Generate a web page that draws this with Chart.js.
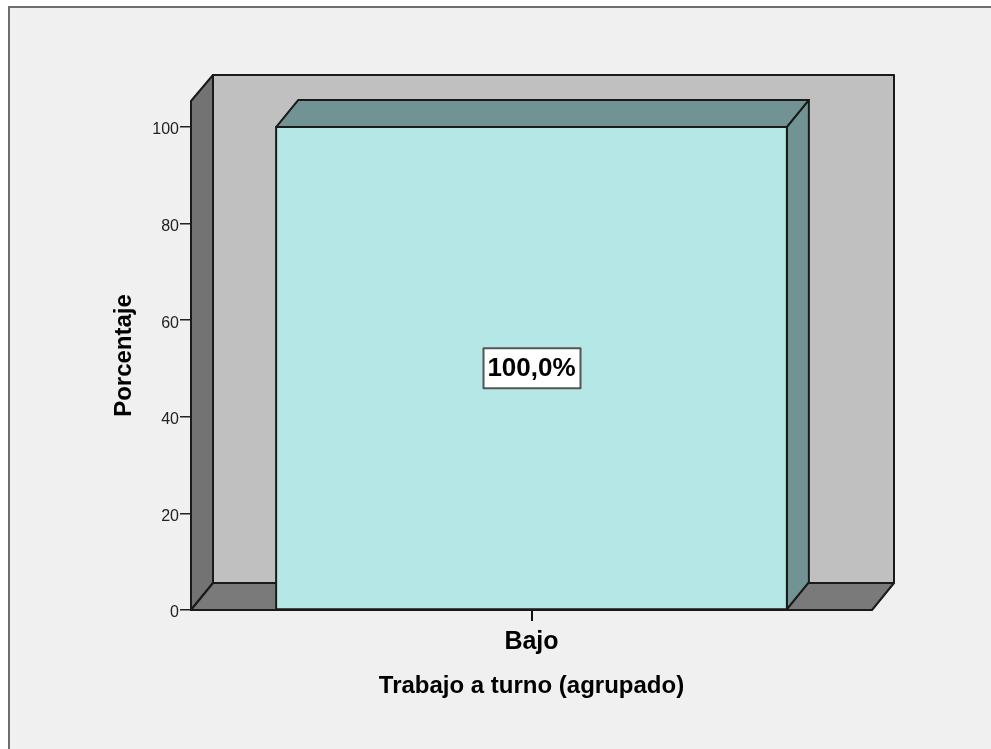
<!DOCTYPE html>
<html>
<head>
<meta charset="utf-8">
<style>
  html, body { margin: 0; padding: 0; background: #fff; overflow: hidden; }
  #frame { position: absolute; left: 8px; top: 6px; width: 983px; height: 743px; box-sizing: border-box;
           background: #f0f0f0; border-top: 2px solid #6e6e6e; border-left: 2px solid #6e6e6e; }
  #wrap { position: absolute; left: 0; top: 0; width: 991px; height: 749px; }
</style>
<script src="https://cdn.jsdelivr.net/npm/chart.js@4"></script>
</head>
<body>
<div id="frame"></div>
<div id="wrap"><canvas id="chart" width="991" height="749"></canvas></div>
<script>
// datos
const categories = ['Bajo'];
const percentages = [100];
const dataLabels = ['100,0%'];
const yTicks = [0, 20, 40, 60, 80, 100];
const yTitle = 'Porcentaje';
const xTitle = 'Trabajo a turno (agrupado)';

// profundidad del efecto 3D
const DX = 22;
const DY = 27;
const LINE = '#1a1a1a';

function poly(ctx, pts, fill) {
    ctx.beginPath();
    pts.forEach((p, i) => i ? ctx.lineTo(p[0], p[1]) : ctx.moveTo(p[0], p[1]));
    ctx.closePath();
    ctx.fillStyle = fill;
    ctx.fill();
    ctx.lineWidth = 2;
    ctx.lineJoin = 'round';
    ctx.strokeStyle = LINE;
    ctx.stroke();
}

// paredes del fondo
const walls = {
    id: 'walls',
    beforeDatasetsDraw(chart) {
        const { ctx, chartArea: a } = chart;
        ctx.save();
        poly(ctx, [[a.left + DX, a.top - DY + 1], [a.right + DX, a.top - DY + 1], [a.right + DX, a.bottom - DY], [a.left + DX, a.bottom - DY]], '#c0c0c0');
        poly(ctx, [[a.left, a.top], [a.left + DX, a.top - DY + 1], [a.left + DX, a.bottom - DY], [a.left, a.bottom]], '#737373');
        poly(ctx, [[a.left, a.bottom], [a.left + DX, a.bottom - DY], [a.right + DX, a.bottom - DY], [a.right, a.bottom]], '#7a7a7a');
        ctx.restore();
    },
    // caras de la barra y etiqueta
    afterDatasetsDraw(chart) {
        const { ctx } = chart;
        const bar = chart.getDatasetMeta(0).data[0];
        const l = bar.x - bar.width / 2;
        const r = bar.x + bar.width / 2;
        const t = bar.y;
        const b = bar.base;
        ctx.save();
        poly(ctx, [[l, t], [l + DX, t - DY], [r + DX, t - DY], [r, t]], '#729393');
        poly(ctx, [[r, t], [r + DX, t - DY], [r + DX, b - DY], [r, b]], '#729393');
        poly(ctx, [[l, t], [r, t], [r, b], [l, b]], '#b5e7e7');

        // etiqueta central
        const cx = bar.x;
        const cy = (t + b) / 2;
        ctx.font = 'bold 26px "Liberation Sans"';
        ctx.fillStyle = '#fff';
        ctx.strokeStyle = '#555';
        ctx.lineWidth = 2;
        ctx.fillRect(cx - 48, cy - 20, 97, 40);
        ctx.strokeRect(cx - 48, cy - 20, 97, 40);
        ctx.fillStyle = '#000';
        ctx.textAlign = 'center';
        ctx.textBaseline = 'middle';
        ctx.fillText(dataLabels[0], cx, cy + 1);
        ctx.restore();
    }
};

new Chart(document.getElementById('chart'), {
    type: 'bar',
    data: {
        labels: categories,
        datasets: [{
            data: percentages,
            backgroundColor: '#b5e7e7',
            barPercentage: 0.75,
            categoryPercentage: 1
        }]
    },
    options: {
        responsive: false,
        animation: false,
        layout: { padding: { left: 110, right: 119, top: 101, bottom: 48 } },
        plugins: { legend: { display: false }, tooltip: { enabled: false } },
        scales: {
            x: {
                afterFit(axis) { axis.height = 91; },
                grid: { offset: false, drawOnChartArea: false, drawTicks: true, tickLength: 11, color: '#111', lineWidth: 2 },
                border: { display: false },
                ticks: { color: '#000', font: { family: 'Liberation Sans', size: 25, weight: 'bold' }, padding: 6 },
                title: { display: true, text: xTitle, color: '#000', font: { family: 'Liberation Sans', size: 24, weight: 'bold' }, padding: { top: 0, bottom: 0 } }
            },
            y: {
                min: 0,
                max: 105.4,
                afterFit(axis) { axis.width = 81; },
                afterBuildTicks(axis) { axis.ticks = yTicks.map(v => ({ value: v })); },
                grid: { drawOnChartArea: false, drawTicks: true, tickLength: 11, color: '#222', lineWidth: 1.5 },
                border: { display: false },
                ticks: { color: '#222', font: { family: 'Liberation Sans', size: 16 }, padding: 1, labelOffset: 3 },
                title: { display: true, text: yTitle, color: '#000', font: { family: 'Liberation Sans', size: 24, weight: 'bold' }, padding: { top: 0, bottom: 0 } }
            }
        }
    },
    plugins: [walls]
});
</script>
</body>
</html>
